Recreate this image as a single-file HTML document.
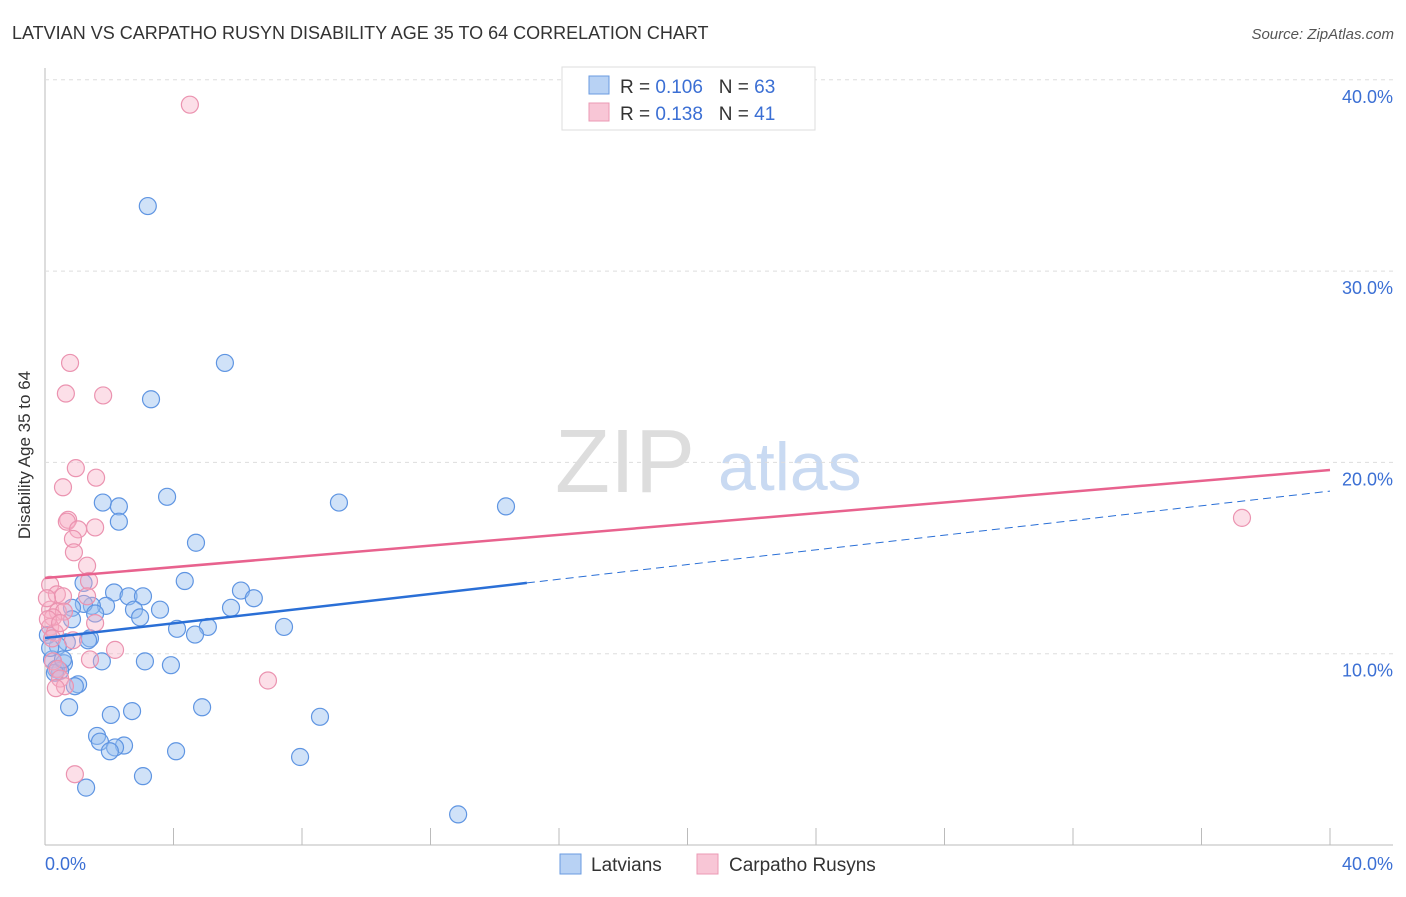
<!DOCTYPE html>
<html><head><meta charset="utf-8"><style>
body{margin:0;background:#fff;font-family:"Liberation Sans",sans-serif;}
svg text{font-family:"Liberation Sans",sans-serif;}
</style></head><body>
<svg id="c" width="1406" height="892">
<text x="12" y="39" font-size="18" fill="#333">LATVIAN VS CARPATHO RUSYN DISABILITY AGE 35 TO 64 CORRELATION CHART</text>
<text x="1394" y="39" font-size="15" fill="#555" text-anchor="end" font-style="italic">Source: ZipAtlas.com</text>
<text x="30" y="455" font-size="17" fill="#333" text-anchor="middle" transform="rotate(-90 30 455)">Disability Age 35 to 64</text>
<text x="555" y="492" font-size="90" fill="#ddd" font-family="Liberation Serif">ZIP</text>
<text x="718" y="490" font-size="68" fill="#c9daf2">atlas</text>
<g id="grid"></g><g id="pts"></g><g id="lines"></g>
<g>
<rect x="562" y="67" width="253" height="63" fill="#fff" stroke="#ddd"/>
<rect x="589" y="76" width="20" height="18" fill="#b8d2f4" stroke="#6a9be0"/>
<rect x="589" y="103" width="20" height="18" fill="#f8c6d6" stroke="#eb9ab4"/>
<text x="620" y="93" font-size="19" fill="#333">R = <tspan fill="#3b6fd4">0.106</tspan>&#160;&#160;&#160;N = <tspan fill="#3b6fd4">63</tspan></text>
<text x="620" y="120" font-size="19" fill="#333">R = <tspan fill="#3b6fd4"> 0.138</tspan>&#160;&#160;&#160;N = <tspan fill="#3b6fd4"> 41</tspan></text>
</g>
<g>
<rect x="560" y="854" width="21" height="20" fill="#b8d2f4" stroke="#6a9be0"/>
<text x="591" y="871" font-size="19" fill="#333">Latvians</text>
<rect x="697" y="854" width="21" height="20" fill="#f8c6d6" stroke="#eb9ab4"/>
<text x="729" y="871" font-size="19" fill="#333">Carpatho Rusyns</text>
</g>
</svg>
<script>
const yTicks=[10,20,30,40];
const xTickLabels=["0.0%","40.0%"];
const blueX=[3.2,5.6,3.3,3.8,1.8,2.3,2.3,9.15,14.35,4.7,4.35,1.2,6.1,6.5,2.15,2.6,3.05,1.9,1.46,1.21,0.84,5.79,3.58,2.77,1.56,2.96,0.84,7.44,4.11,5.07,4.67,1.4,1.34,0.68,0.4,0.22,1.77,3.11,3.92,0.59,0.34,0.47,1.03,0.93,0.75,2.05,2.71,4.89,8.56,1.62,1.71,2.46,2.18,2.02,4.08,7.94,3.05,1.28,12.86,0.09,0.16,0.31,0.56];
const blueY=[33.4,25.2,23.3,18.2,17.9,17.7,16.9,17.9,17.7,15.8,13.8,13.7,13.3,12.9,13.2,13.0,13.0,12.5,12.5,12.6,12.4,12.4,12.3,12.3,12.1,11.9,11.8,11.4,11.3,11.4,11.0,10.8,10.7,10.6,10.4,9.7,9.6,9.6,9.4,9.5,9.2,9.1,8.4,8.3,7.2,6.8,7.0,7.2,6.7,5.7,5.4,5.2,5.1,4.9,4.9,4.6,3.6,3.0,1.6,10.98,10.3,9.0,9.7];
const pinkX=[4.51,0.78,0.65,1.81,0.96,1.59,0.56,0.72,0.68,1.56,1.03,0.87,0.9,1.31,1.37,0.16,0.37,0.56,1.31,0.16,0.4,0.59,1.56,0.25,0.16,0.31,0.22,0.87,2.18,1.4,0.25,0.4,0.47,6.94,0.62,0.34,37.26,0.93,0.09,0.47,0.06];
const pinkY=[38.7,25.2,23.6,23.5,19.7,19.2,18.7,17.0,16.9,16.6,16.5,16.0,15.3,14.6,13.8,13.6,13.1,13.0,13.0,12.3,12.2,12.2,11.6,11.9,11.4,11.1,10.8,10.7,10.2,9.7,9.6,9.2,8.7,8.6,8.3,8.2,17.1,3.7,11.8,11.6,12.9];
const pinkLine=[13.96,19.6];
const blueLine=[10.82,18.5];
const blueSolidEnd=15;
const ns="http://www.w3.org/2000/svg";
const X=v=>45+v*32.125, Y=v=>845-v*19.13;
function mk(t,a,p){const e=document.createElementNS(ns,t);for(const k in a)e.setAttribute(k,a[k]);p.appendChild(e);return e;}
const g=document.getElementById('grid');
let ax=mk('line',{x1:45,y1:68,x2:45,y2:845,stroke:'#bbb'},g);


let bx=mk('line',{x1:45,y1:845,x2:1393,y2:845,stroke:'#bbb'},g);


yTicks.forEach(t=>{
 const l=mk('line',{x1:45,y1:Y(t),x2:1393,y2:Y(t),stroke:'#ddd','stroke-dasharray':'4 4'},g);
 
 
 const tx=mk('text',{x:1393,y:Y(t)+23,'font-size':18,fill:'#3b6fd4','text-anchor':'end'},g);
 tx.textContent=t.toFixed(1)+'%';
 
 
});
for(let i=0;i<=40;i+=4){const l=mk('line',{x1:X(i),y1:828,x2:X(i),y2:845,stroke:'#bbb'},g);
 
 }
let t0=mk('text',{x:45,y:870,'font-size':18,fill:'#3b6fd4'},g);t0.textContent=xTickLabels[0];


let t1=mk('text',{x:1393,y:870,'font-size':18,fill:'#3b6fd4','text-anchor':'end'},g);t1.textContent=xTickLabels[1];


const p=document.getElementById('pts');
blueX.forEach((x,i)=>{const c=mk('circle',{cx:X(x),cy:Y(blueY[i]),r:8.5,fill:'rgba(150,190,240,0.45)',stroke:'#5f95e2','stroke-width':1.2},p);
 
 });
pinkX.forEach((x,i)=>{const c=mk('circle',{cx:X(x),cy:Y(pinkY[i]),r:8.5,fill:'rgba(248,175,198,0.4)',stroke:'#eb93b0','stroke-width':1.2},p);
 
 });
const L=document.getElementById('lines');
const bv=x=>blueLine[0]+(blueLine[1]-blueLine[0])*x/40;
let pl=mk('line',{x1:X(0),y1:Y(pinkLine[0]),x2:X(40),y2:Y(pinkLine[1]),stroke:'#e8628e','stroke-width':2.5},L);


let bl=mk('line',{x1:X(0),y1:Y(bv(0)),x2:X(blueSolidEnd),y2:Y(bv(blueSolidEnd)),stroke:'#2a6fd6','stroke-width':2.5},L);


let bd=mk('line',{x1:X(blueSolidEnd),y1:Y(bv(blueSolidEnd)),x2:X(40),y2:Y(bv(40)),stroke:'#2a6fd6','stroke-width':1,'stroke-dasharray':'8 5'},L);


</script>
</body></html>
